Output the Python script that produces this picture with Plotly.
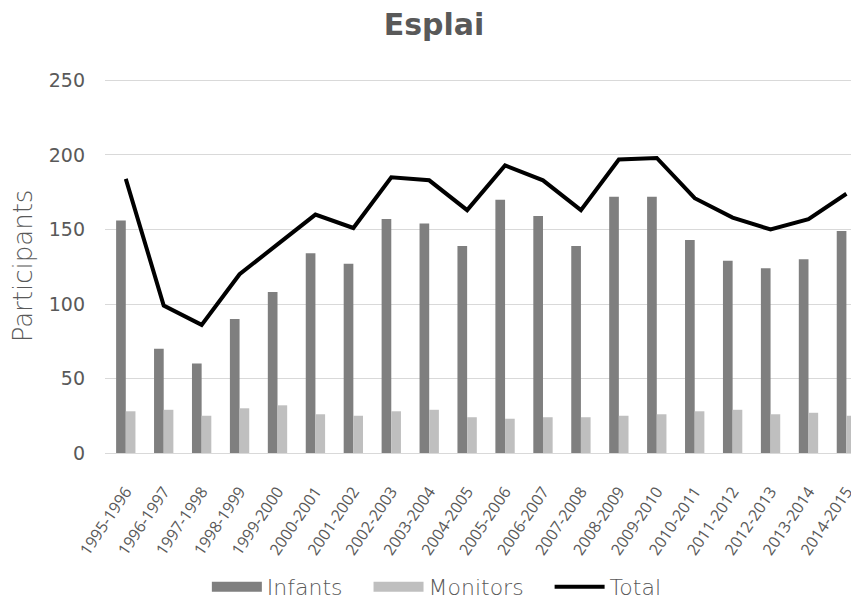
import plotly.graph_objects as go

seasons = ["1995-1996", "1996-1997", "1997-1998", "1998-1999", "1999-2000",
           "2000-2001", "2001-2002", "2002-2003", "2003-2004", "2004-2005",
           "2005-2006", "2006-2007", "2007-2008", "2008-2009", "2009-2010",
           "2010-2011", "2011-2012", "2012-2013", "2013-2014", "2014-2015"]
infants = [156, 70, 60, 90, 108, 134, 127, 157, 154, 139,
           170, 159, 139, 172, 172, 143, 129, 124, 130, 149]
monitors = [28, 29, 25, 30, 32, 26, 25, 28, 29, 24,
            23, 24, 24, 25, 26, 28, 29, 26, 27, 25]
total = [184, 99, 86, 120, 140, 160, 151, 185, 183, 163,
         193, 183, 163, 197, 198, 171, 158, 150, 157, 174]
y_ticks = [0, 50, 100, 150, 200, 250]

c_inf = "#7f7f7f"
c_mon = "#bfbfbf"
sp = "\u00a0" * 3

fig = go.Figure()
fig.add_trace(go.Bar(x=seasons, y=infants, name="Infants", showlegend=False,
                     marker=dict(color=c_inf, line=dict(width=0))))
fig.add_trace(go.Bar(x=seasons, y=monitors, name="Monitors", showlegend=False,
                     marker=dict(color=c_mon, line=dict(width=0))))
fig.add_trace(go.Scatter(x=seasons, y=total, name="Total", mode="lines", showlegend=False,
                         line=dict(color="#000000", width=4)))
# legend entries (wide rectangles like the original)
fig.add_trace(go.Scatter(x=[None], y=[None], name="Infants" + sp, mode="lines",
                         line=dict(color=c_inf, width=14)))
fig.add_trace(go.Scatter(x=[None], y=[None], name="Monitors" + sp, mode="lines",
                         line=dict(color=c_mon, width=14)))
fig.add_trace(go.Scatter(x=[None], y=[None], name="Total", mode="lines",
                         line=dict(color="#000000", width=4)))

fig.update_layout(
    width=859, height=600,
    paper_bgcolor="white", plot_bgcolor="white",
    margin=dict(l=97, r=13, t=71, b=155),
    barmode="group", bargap=0.49, bargroupgap=0,
    title=dict(text="<b>Esplai</b>", x=0.496, xanchor="center", y=1.0, yanchor="top",
               pad=dict(t=6),
               font=dict(family="DejaVu Sans", size=30, color="#595959")),
    font=dict(family="DejaVu Sans", color="#595959"),
    legend=dict(orientation="h", xref="container", yref="container",
                x=0.2315, xanchor="left", y=0.07, yanchor="top",
                font=dict(family="DejaVu Sans", size=22, color="#595959", weight=200),
                itemwidth=50, tracegroupgap=0, traceorder="normal"),
    showlegend=True,
)
fig.update_xaxes(range=[-0.548, 19.2],
                 tickangle=-56, tickfont=dict(family="Open Sans", size=16, color="#595959"),
                 showgrid=False, showline=True, linecolor="#d9d9d9", linewidth=1,
                 ticks="", ticklabelstandoff=22, automargin=False, fixedrange=True)
fig.update_yaxes(range=[0, 251], tickvals=y_ticks,
                 showgrid=True, gridcolor="#d9d9d9", gridwidth=1,
                 zeroline=False, ticks="", ticklabelstandoff=19, automargin=False,
                 tickfont=dict(family="DejaVu Sans", size=19, color="#595959"),
                 title=dict(text="Participants", standoff=10,
                            font=dict(family="DejaVu Sans", size=26, color="#595959", weight=200)))

fig.write_html("out.html")
